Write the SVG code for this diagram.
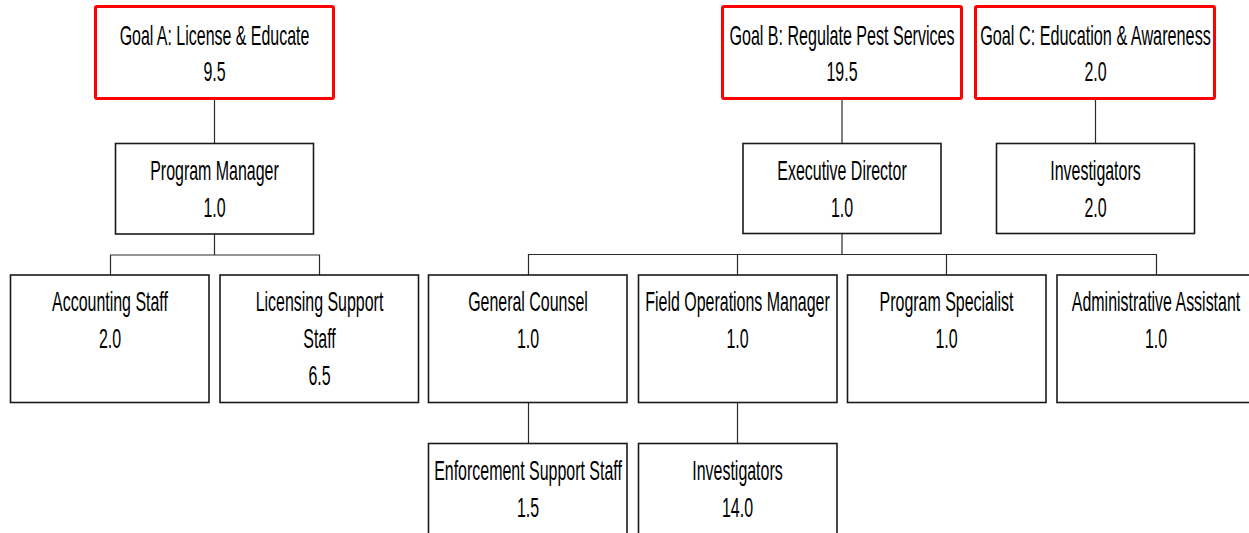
<svg xmlns="http://www.w3.org/2000/svg" width="1249" height="533" viewBox="0 0 1249 533">
  <style>
    .goal { fill: #ffffff; stroke: #ff0000; stroke-width: 3; }
    .box { fill: #ffffff; stroke: #1a1a1a; stroke-width: 1.6; }
    .lbl { font-family: "Liberation Sans", Arial, sans-serif; font-size: 28.5px; fill: #000000; text-anchor: middle; }
    .wire { fill: none; stroke: #2a2a2a; stroke-width: 1.2; }
  </style>
  <rect width="1249" height="533" fill="#ffffff"/>

  <!-- connectors -->
  <g id="connectors" class="wire">
    <!-- Goal A branch -->
    <path d="M214.5 99 V143.5"/>
    <path d="M214.5 234 V255 M110.5 275 V255 H319.5 V275"/>
    <!-- Goal B branch -->
    <path d="M842 99 V143.5"/>
    <path d="M842 233.5 V254.5 M528.5 275 V254.5 H1156.5 V275 M737.5 254.5 V275 M946.5 254.5 V275"/>
    <path d="M528.5 403 V443.5 M737.5 403 V443.5"/>
    <!-- Goal C branch -->
    <path d="M1095.5 99 V143.5"/>
  </g>

  <!-- Goal A -->
  <g id="goal-a">
    <rect class="goal" x="95.5" y="6.5" width="238" height="92" rx="1.5"/>
    <text class="lbl" transform="translate(214.5 44.5) scale(0.56 1)">Goal A: License &amp; Educate</text>
    <text class="lbl" transform="translate(214.5 81) scale(0.56 1)">9.5</text>
  </g>
  <g id="program-manager">
    <rect class="box" x="115.5" y="143.5" width="198" height="90.5"/>
    <text class="lbl" transform="translate(214.5 180) scale(0.56 1)">Program Manager</text>
    <text class="lbl" transform="translate(214.5 216.5) scale(0.56 1)">1.0</text>
  </g>
  <g id="accounting-staff">
    <rect class="box" x="10.5" y="275" width="198.5" height="127.5"/>
    <text class="lbl" transform="translate(110 310.5) scale(0.56 1)">Accounting Staff</text>
    <text class="lbl" transform="translate(110 347.5) scale(0.56 1)">2.0</text>
  </g>
  <g id="licensing-support-staff">
    <rect class="box" x="220" y="275" width="198.5" height="127.5"/>
    <text class="lbl" transform="translate(319.5 310.5) scale(0.56 1)">Licensing Support</text>
    <text class="lbl" transform="translate(319.5 347.5) scale(0.56 1)">Staff</text>
    <text class="lbl" transform="translate(319.5 384.5) scale(0.56 1)">6.5</text>
  </g>

  <!-- Goal B -->
  <g id="goal-b">
    <rect class="goal" x="722.5" y="6.5" width="239" height="92" rx="1.5"/>
    <text class="lbl" transform="translate(842 44.5) scale(0.56 1)" textLength="402" lengthAdjust="spacingAndGlyphs">Goal B: Regulate Pest Services</text>
    <text class="lbl" transform="translate(842 81) scale(0.56 1)">19.5</text>
  </g>
  <g id="executive-director">
    <rect class="box" x="743" y="143.5" width="198" height="90"/>
    <text class="lbl" transform="translate(842 180) scale(0.56 1)">Executive Director</text>
    <text class="lbl" transform="translate(842 216.5) scale(0.56 1)">1.0</text>
  </g>
  <g id="general-counsel">
    <rect class="box" x="428.5" y="275" width="198.5" height="127.5"/>
    <text class="lbl" transform="translate(528 310.5) scale(0.56 1)">General Counsel</text>
    <text class="lbl" transform="translate(528 347.5) scale(0.56 1)">1.0</text>
  </g>
  <g id="field-operations-manager">
    <rect class="box" x="638.5" y="275" width="198.5" height="127.5"/>
    <text class="lbl" transform="translate(737.5 310.5) scale(0.56 1)">Field Operations Manager</text>
    <text class="lbl" transform="translate(737.5 347.5) scale(0.56 1)">1.0</text>
  </g>
  <g id="program-specialist">
    <rect class="box" x="847.5" y="275" width="198.5" height="127.5"/>
    <text class="lbl" transform="translate(946.5 310.5) scale(0.56 1)">Program Specialist</text>
    <text class="lbl" transform="translate(946.5 347.5) scale(0.56 1)">1.0</text>
  </g>
  <g id="administrative-assistant">
    <rect class="box" x="1057" y="275" width="198.5" height="127.5"/>
    <text class="lbl" transform="translate(1156 310.5) scale(0.56 1)">Administrative Assistant</text>
    <text class="lbl" transform="translate(1156 347.5) scale(0.56 1)">1.0</text>
  </g>
  <g id="enforcement-support-staff">
    <rect class="box" x="428.5" y="443.5" width="198.5" height="127.5"/>
    <text class="lbl" transform="translate(528 479.5) scale(0.56 1)">Enforcement Support Staff</text>
    <text class="lbl" transform="translate(528 516.5) scale(0.56 1)">1.5</text>
  </g>
  <g id="field-investigators">
    <rect class="box" x="638.5" y="443.5" width="198.5" height="127.5"/>
    <text class="lbl" transform="translate(737.5 479.5) scale(0.56 1)">Investigators</text>
    <text class="lbl" transform="translate(737.5 516.5) scale(0.56 1)">14.0</text>
  </g>

  <!-- Goal C -->
  <g id="goal-c">
    <rect class="goal" x="975.5" y="6.5" width="239" height="92" rx="1.5"/>
    <text class="lbl" transform="translate(1095.5 44.5) scale(0.56 1)" textLength="412" lengthAdjust="spacingAndGlyphs">Goal C: Education &amp; Awareness</text>
    <text class="lbl" transform="translate(1095.5 81) scale(0.56 1)">2.0</text>
  </g>
  <g id="outreach-investigators">
    <rect class="box" x="996.5" y="143.5" width="198" height="90"/>
    <text class="lbl" transform="translate(1095.5 180) scale(0.56 1)">Investigators</text>
    <text class="lbl" transform="translate(1095.5 216.5) scale(0.56 1)">2.0</text>
  </g>
</svg>
